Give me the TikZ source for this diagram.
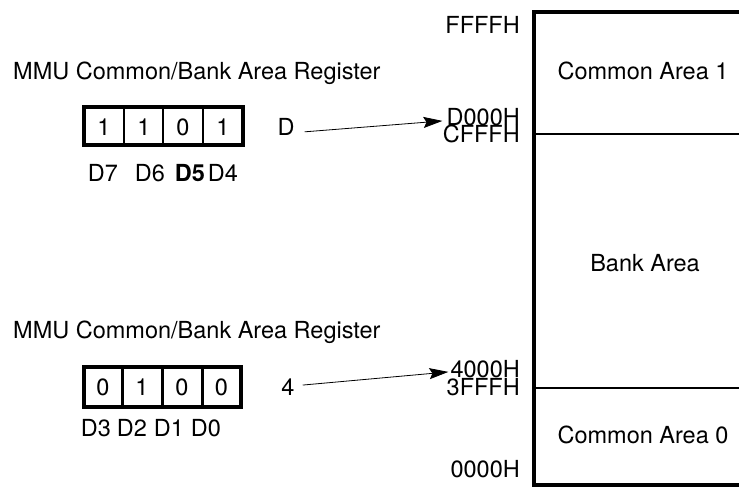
\documentclass[tikz,border=0pt]{standalone}
\usepackage{fontspec}
\setmainfont{TeX Gyre Heros}
\usetikzlibrary{arrows.meta}
\tikzset{
  txt/.style={inner sep=0pt, anchor=base, font=\fontsize{23.5}{24}\selectfont},
  addr/.style={txt, anchor=base east},
  title/.style={txt, anchor=base west},
  frame/.style={line width=3.5pt},
  divider/.style={line width=1.2pt},
  ptr/.style={line width=0.8pt, -{Stealth[length=19pt,width=11pt,inset=3pt]}}
}
\begin{document}
\begin{tikzpicture}[x=1pt,y=-1pt]
\useasboundingbox (0,0) rectangle (739,489);
%---------------------------------------------------
% memory map
\draw[frame] (739,12) -- (534,12) -- (534,485) -- (739,485);
\draw[divider] (534,134) -- (739,134);
\draw[divider] (534,388) -- (739,388);
\node[txt] (com1) at (643,80) {Common Area 1};
\node[txt] (bank) at (645,271) {Bank Area};
\node[txt] (com0) at (643,443) {Common Area 0};
\node[addr] (hffff) at (520,34) {FFFFH};
\node[addr] (hd000) at (520,125.3) {D000H};
\node[addr] (hcfff) at (520,143) {CFFFH};
\node[addr] (h4000) at (520,377.3) {4000H};
\node[addr] (h3fff) at (520,395) {3FFFH};
\node[addr] (h0000) at (520,477) {0000H};
%---------------------------------------------------
% upper nibble
\node[title] (regA) at (13,80) {MMU Common/Bank Area Register};
\draw[frame] (84,107) rectangle (243,145);
\foreach \x in {124,163,203} \draw[divider] (\x,107) -- (\x,145);
\foreach \x/\b [count=\i] in {104/1,144/1,183/0,223/1}
  \node[txt] (ba\i) at (\x,136) {\b};
\node[txt] (d7) at (103,182) {D7};
\node[txt] (d6) at (150,182) {D6};
\node[txt] (d5) at (190,182) {\textbf{D5}};
\node[txt] (d4) at (223,182) {D4};
\node[txt] (selD) at (286,136) {D};
\draw[ptr] ([shift={(10pt,-4.4pt)}]selD.east) -- ([shift={(-4pt,-4pt)}]hd000.west);
%---------------------------------------------------
% lower nibble
\node[title] (regB) at (13,338) {MMU Common/Bank Area Register};
\draw[frame] (84,367) rectangle (241,407);
\foreach \x in {122,162,202} \draw[line width=3pt] (\x,367) -- (\x,407);
\foreach \x/\b [count=\i] in {103/0,142/1,182/0,221.5/0}
  \node[txt] (bb\i) at (\x,395) {\b};
\node[txt] (d3) at (96,436) {D3};
\node[txt] (d2) at (132,436) {D2};
\node[txt] (d1) at (169,436) {D1};
\node[txt] (d0) at (206,436) {D0};
\node[txt] (sel4) at (288,395) {4};
\draw[ptr] ([shift={(8pt,1.6pt)}]sel4.east) -- ([shift={(-2pt,-3pt)}]h4000.west);
\end{tikzpicture}
\end{document}
